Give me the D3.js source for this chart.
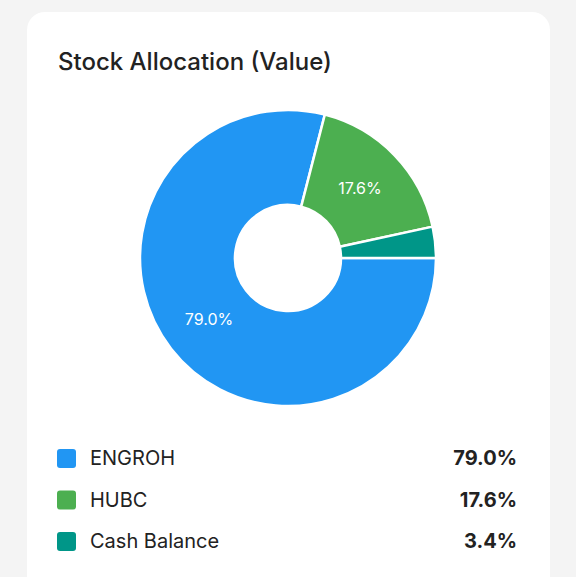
<!DOCTYPE html>
<html><head><meta charset="utf-8">
<script src="https://cdn.jsdelivr.net/npm/d3@7"></script>
<style>
body{margin:0;background:#f4f4f4;font-family:Inter,Roboto,sans-serif;}
</style></head>
<body><svg id="chart" width="576" height="577"></svg>
<script>
// Allocation data
const labels = ['ENGROH', 'HUBC', 'Cash Balance'];
const values = [79.0, 17.6, 3.4];
const colors = ['#2196F3', '#4CAF50', '#009688'];

const svg = d3.select('#chart');

// Card
svg.append('rect').attr('x', 27).attr('y', 12).attr('width', 523).attr('height', 600)
    .attr('rx', 18).attr('fill', '#fff');

svg.append('text').attr('x', 58).attr('y', 70).attr('font-size', 24).attr('font-weight', 500)
    .attr('fill', '#222').text('Stock Allocation (Value)');

// Donut
const cx = 288, cy = 258;
const pie = d3.pie().sort(null).startAngle(Math.PI / 2).endAngle(Math.PI / 2 + 2 * Math.PI);
const arcs = pie(values);
const arc = d3.arc().innerRadius(53).outerRadius(148);
const labelArc = d3.arc().innerRadius(100).outerRadius(100);

const g = svg.append('g').attr('transform', `translate(${cx},${cy})`);
g.selectAll('path').data(arcs).join('path')
    .attr('d', arc).attr('fill', (d, i) => colors[i])
    .attr('stroke', '#fff').attr('stroke-width', 2.5);

g.selectAll('text').data(arcs.filter(d => d.value > 5)).join('text')
    .attr('transform', d => `translate(${labelArc.centroid(d)})`)
    .attr('text-anchor', 'middle').attr('dy', '0.35em')
    .attr('fill', '#fff').attr('font-size', 16)
    .text(d => d.value.toFixed(1) + '%');

// Legend
const rowY = d3.scalePoint().domain(labels).range([458, 541]);
const legend = svg.append('g');
labels.forEach((l, i) => {
    const y = rowY(l);
    legend.append('rect').attr('x', 57).attr('y', y - 9).attr('width', 19).attr('height', 19)
        .attr('rx', 3).attr('fill', colors[i]);
    legend.append('text').attr('x', 90).attr('y', y).attr('dy', '0.35em')
        .attr('font-size', 20).attr('fill', '#222').text(l);
    legend.append('text').attr('x', 517).attr('y', y).attr('dy', '0.35em')
        .attr('text-anchor', 'end').attr('font-size', 20).attr('font-weight', 700)
        .attr('fill', '#222').text(values[i].toFixed(1) + '%');
});
</script></body></html>
